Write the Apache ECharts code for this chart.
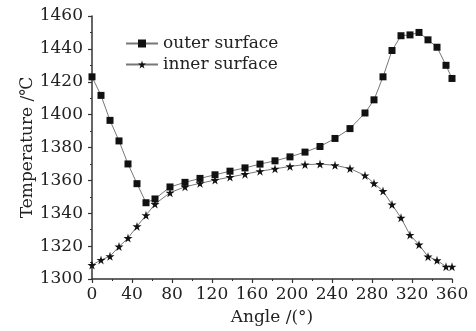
<!DOCTYPE html>
<html>
<head>
<meta charset="utf-8">
<script src="https://cdn.jsdelivr.net/npm/echarts@6/dist/echarts.min.js"></script>
<style>
  html, body {margin: 0; padding: 0; background: #fff;}
  #chart {width: 476px; height: 331px;}
</style>
</head>
<body>
<div id="chart"></div>
<script>
// angle (deg) of each sample
const angles = [0, 9, 18, 27, 36, 45, 54, 63, 78, 93, 108, 123, 138, 153, 168, 183,
  198, 213, 228, 243, 258, 273, 282, 291, 300, 309, 318, 327, 336, 345, 354, 360]
const outerSurface = [1423, 1411.7, 1396.5, 1384, 1370, 1358, 1346.4, 1348.7, 1356, 1358.8,
  1361.2, 1363.4, 1365.6, 1367.6, 1369.9, 1371.9, 1374.3, 1377.2, 1380.6, 1385.5, 1391.5,
  1401, 1409, 1423, 1439, 1448, 1448.5, 1450, 1445.5, 1441, 1430, 1422]
const innerSurface = [1308.5, 1311.6, 1313.8, 1319.7, 1324.9, 1332, 1338.8, 1345.6, 1352.5,
  1356.1, 1358.2, 1360.2, 1362, 1363.8, 1365.6, 1367, 1368.5, 1369.6, 1369.9, 1369.2, 1367.2,
  1363, 1358.2, 1353.5, 1345.3, 1337.2, 1326.8, 1320.9, 1313.6, 1311.4, 1307.5, 1307.5]
const xTicks = {min: 0, max: 360, interval: 40}
const yTicks = {min: 1300, max: 1460, interval: 20}

const font = 'DejaVu Serif'
const star = 'path://M50,0 L61,35 L98,35 L68,57 L79,91 L50,70 L21,91 L32,57 L2,35 L39,35 Z'

const toPairs = (ys) => angles.map((a, i) => [a, ys[i]])

const axisCommon = {
  axisLine: {show: true, lineStyle: {color: '#333', width: 1.5}},
  axisTick: {show: true, inside: false, length: 4, lineStyle: {color: '#333', width: 1.2}},
  minorTick: {show: true, splitNumber: 2, length: 2, lineStyle: {color: '#333', width: 1}},
  splitLine: {show: false},
  axisLabel: {color: '#222', fontFamily: font, fontSize: 17, formatter: (v) => String(v)},
  nameTextStyle: {color: '#222', fontFamily: font, fontSize: 17},
}

const myChart = echarts.init(document.getElementById('chart'))
myChart.setOption({
  animation: false,
  grid: {left: 92, right: 24, top: 16, bottom: 52},
  legend: {
    orient: 'vertical',
    left: 120,
    top: 30,
    itemWidth: 32,
    itemHeight: 10,
    itemGap: 4,
    textStyle: {color: '#222', fontFamily: font, fontSize: 17},
    data: ['outer surface', 'inner surface'],
  },
  xAxis: {
    type: 'value',
    ...xTicks,
    ...axisCommon,
    axisLabel: {...axisCommon.axisLabel, margin: 7},
    name: 'Angle /(°)',
    nameLocation: 'middle',
    nameGap: 30,
  },
  yAxis: {
    type: 'value',
    ...yTicks,
    ...axisCommon,
    axisLabel: {...axisCommon.axisLabel, margin: 9},
    name: 'Temperature /℃',
    nameLocation: 'middle',
    nameGap: 56,
    nameMoveOverlap: false,
  },
  series: [{
    name: 'outer surface',
    type: 'line',
    data: toPairs(outerSurface),
    symbol: 'rect',
    symbolSize: 7,
    itemStyle: {color: '#111'},
    lineStyle: {color: '#777', width: 1},
  }, {
    name: 'inner surface',
    type: 'line',
    data: toPairs(innerSurface),
    symbol: star,
    symbolSize: 9,
    itemStyle: {color: '#111'},
    lineStyle: {color: '#777', width: 1},
  }]
})
</script>
</body>
</html>
